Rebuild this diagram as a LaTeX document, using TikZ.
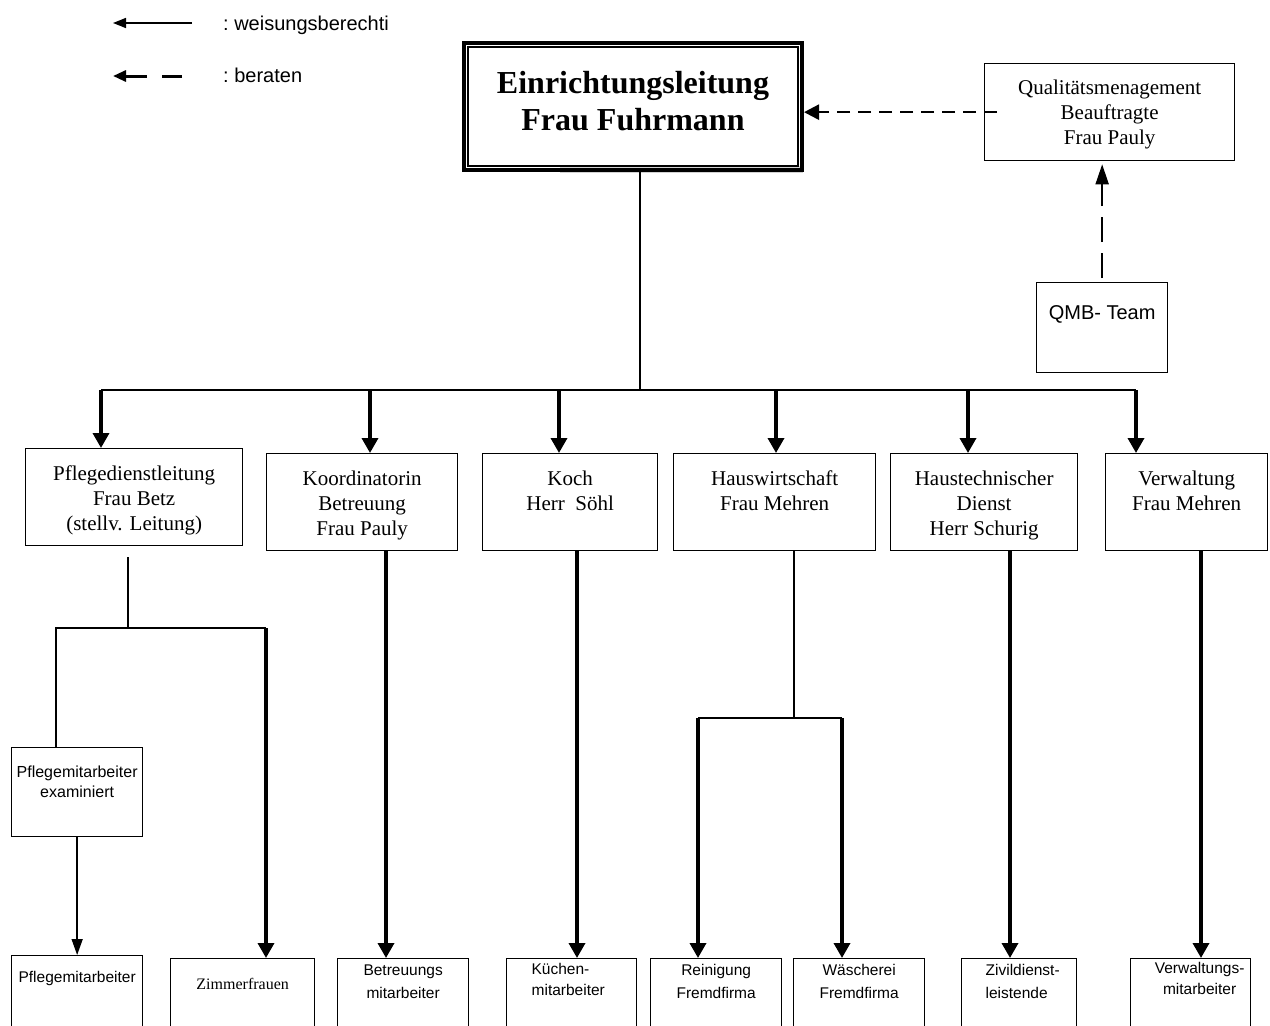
\documentclass[tikz,border=0pt]{standalone}
\usepackage{fontspec}
\setmainfont{Liberation Serif}
\newfontfamily\arialfont{Liberation Sans}
\usetikzlibrary{arrows.meta}
\tikzset{cell/.style = {draw, line width = 1.3pt, inner sep = 0, font = \fontsize{21}{25}\selectfont}}
\tikzset{cellsf/.style = {draw, line width = 1.3pt, inner sep = 0, font = \arialfont\fontsize{15.5}{23}\selectfont}}
\tikzset{link/.style = {line width = 1.5pt}}
\tikzset{heavy/.style = {line width = 3.5pt, -{Triangle[length = 15pt, width = 16pt]}}}
\tikzset{light/.style = {line width = 1.5pt, -{Triangle[length = 16pt, width = 11pt]}}}
\tikzset{advise/.style = {line width = 2.5pt, dash pattern = on 13pt off 8pt, -{Triangle[length = 15pt, width = 15pt]}}}
\tikzset{legtext/.style = {anchor = base west, inner sep = 0, font = \arialfont\fontsize{20}{24}\selectfont}}
% box contents: [alignment]{width}{height}{top pad}{text}
\newcommand{\orgcell}[5][\centering]{\parbox[c][#3][t]{#2}{#1\vspace*{#4}#5}}

\begin{document}
\begin{tikzpicture}[x = 1pt, y = -1pt]
    \useasboundingbox (0, 0) rectangle (1270, 1026);
    \clip (0, 0) rectangle (1270, 1026);

    % legend
    \coordinate (solidA) at (192, 23);
    \coordinate (solidB) at (113, 23);
    \draw [line width = 1.5pt, -{Triangle[length = 13pt, width = 10pt]}] (solidA) -- (solidB);
    \node [legtext] (legsolid) at (223, 30) {:\ weisungsberechti};
    \coordinate (dashA) at (182, 76);
    \coordinate (dashB) at (113, 76);
    \draw [line width = 3pt, dash pattern = on 20pt off 15pt on 40pt,
           -{Triangle[length = 13pt, width = 11pt]}] (dashA) -- (dashB);
    \node [legtext] (legdash) at (223, 82) {:\ beraten};

    % head
    \fill [gray!35] (560, 166) rectangle (803, 173);
    \node [cell, line width = 4pt, anchor = north west, font = \fontsize{32}{37}\selectfont\bfseries]
        (el) at (462, 41) {\orgcell{338pt}{127pt}{28pt}{Einrichtungsleitung\\Frau Fuhrmann}};
    \draw [line width = 1.3pt] ([shift = {(6pt, -6pt)}]el.north west) rectangle ([shift = {(-6pt, 6pt)}]el.south east);

    \node [cell, anchor = north west] (qm) at (984, 63)
        {\orgcell{250pt}{97pt}{16pt}{Qualitätsmenagement\\Beauftragte\\Frau Pauly}};
    \node [cellsf, anchor = north west, font = \arialfont\fontsize{20}{24}\selectfont] (qmb) at (1036, 282)
        {\orgcell{131pt}{90pt}{23pt}{QMB- Team}};
    \draw [advise] ([xshift = 13pt]qm.west) -- (qm.west -| el.east);
    \draw [line width = 2pt, dash pattern = on 25pt off 11pt, shorten > = 3pt,
           -{Triangle[length = 20pt, width = 13pt]}] ([yshift = 4pt]qmb.north) -- (qmb.north |- qm.south);

    % second row
    \node [cell, anchor = north west] (pdl) at (25, 448)
        {\orgcell{217pt}{97pt}{17pt}{Pflegedienstleitung\\Frau Betz\\(stellv. Leitung)}};
    \node [cell, anchor = north west] (koord) at (266, 453)
        {\orgcell{191pt}{97pt}{17pt}{Koordinatorin\\Betreuung\\Frau Pauly}};
    \node [cell, anchor = north west] (koch) at (482, 453)
        {\orgcell{175pt}{97pt}{17pt}{Koch\\Herr\ \ Söhl}};
    \node [cell, anchor = north west] (hw) at (673, 453)
        {\orgcell{202pt}{97pt}{17pt}{Hauswirtschaft\\Frau Mehren}};
    \node [cell, anchor = north west] (ht) at (890, 453)
        {\orgcell{187pt}{97pt}{17pt}{Haustechnischer\\Dienst\\Herr Schurig}};
    \node [cell, anchor = north west] (vw) at (1105, 453)
        {\orgcell{162pt}{97pt}{17pt}{Verwaltung\\Frau Mehren}};

    % lower levels
    \node [cellsf, anchor = north west, font = \arialfont\fontsize{16}{20}\selectfont] (pme) at (11, 747)
        {\orgcell{131pt}{89pt}{18pt}{Pflegemitarbeiter\\examiniert}};
    \node [cellsf, anchor = north west] (pm) at (11, 955)
        {\orgcell{131pt}{100pt}{16pt}{Pflegemitarbeiter}};
    \node [cell, anchor = north west, font = \fontsize{16}{20}\selectfont] (zf) at (170, 958)
        {\orgcell{144pt}{100pt}{20pt}{Zimmerfrauen}};
    \node [cellsf, anchor = north west] (bm) at (337, 958)
        {\orgcell{131pt}{100pt}{6pt}{Betreuungs\\mitarbeiter}};
    \node [cellsf, anchor = north west, font = \arialfont\fontsize{15.5}{21}\selectfont] (km) at (506, 958)
        {\orgcell[\raggedright\leftskip = 25pt\relax]{130pt}{100pt}{5pt}{Küchen-\\mitarbeiter}};
    \node [cellsf, anchor = north west] (rf) at (650, 958)
        {\orgcell{131pt}{100pt}{6pt}{Reinigung\\Fremdfirma}};
    \node [cellsf, anchor = north west] (wf) at (793, 958)
        {\orgcell{131pt}{100pt}{6pt}{Wäscherei\\Fremdfirma}};
    \node [cellsf, anchor = north west] (zd) at (961, 958)
        {\orgcell[\raggedright\leftskip = 24pt\relax]{115pt}{100pt}{6pt}{Zivildienst-\\leistende}};
    \node [cellsf, anchor = north west, font = \arialfont\fontsize{15.5}{21}\selectfont] (vm) at (1130, 958)
        {\orgcell[\centering\leftskip = 18pt plus 1fil\relax]{120pt}{100pt}{4pt}{Verwaltungs-\\mitarbeiter}};

    % head to second row
    \coordinate (bus) at (640, 390);
    \coordinate (stem) at (el.south -| bus);
    \coordinate (busL) at (101, 390);
    \coordinate (busR) at (1136, 390);
    \draw [link] (stem) -- (bus);
    \draw [link] (busL) -- (busR);
    \foreach \x/\n in {101/pdl, 370/koord, 559/koch, 776/hw, 968/ht, 1136/vw} {
        \coordinate (t\n) at (\x, 390);
        \draw [heavy] (t\n) -- (t\n |- \n.north);
    }

    % second row to staff
    \coordinate (pdlstub) at (128, 557);
    \coordinate (pdlsplit) at (128, 628);
    \coordinate (pmeL) at (56, 628);
    \coordinate (zfR) at (266, 628);
    \draw [link] (pdlstub) -- (pdlsplit);
    \draw [link] (pmeL |- pme.north) -- (pmeL) -- (zfR);
    \draw [heavy] (zfR) -- (zfR |- zf.north);
    \draw [light] (pme.south) -- (pme.south |- pm.north);

    \foreach \x/\a/\b in {386/koord/bm, 577/koch/km, 1010/ht/zd, 1201/vw/vm} {
        \coordinate (d\b) at (\x, 550);
        \draw [heavy] (d\b |- \a.south) -- (d\b |- \b.north);
    }

    \coordinate (hwsplit) at (794, 718);
    \coordinate (rfT) at (698, 718);
    \coordinate (wfT) at (842, 718);
    \draw [link] (hwsplit |- hw.south) -- (hwsplit);
    \draw [link] (rfT) -- (wfT);
    \draw [heavy] (rfT) -- (rfT |- rf.north);
    \draw [heavy] (wfT) -- (wfT |- wf.north);
\end{tikzpicture}
\end{document}
